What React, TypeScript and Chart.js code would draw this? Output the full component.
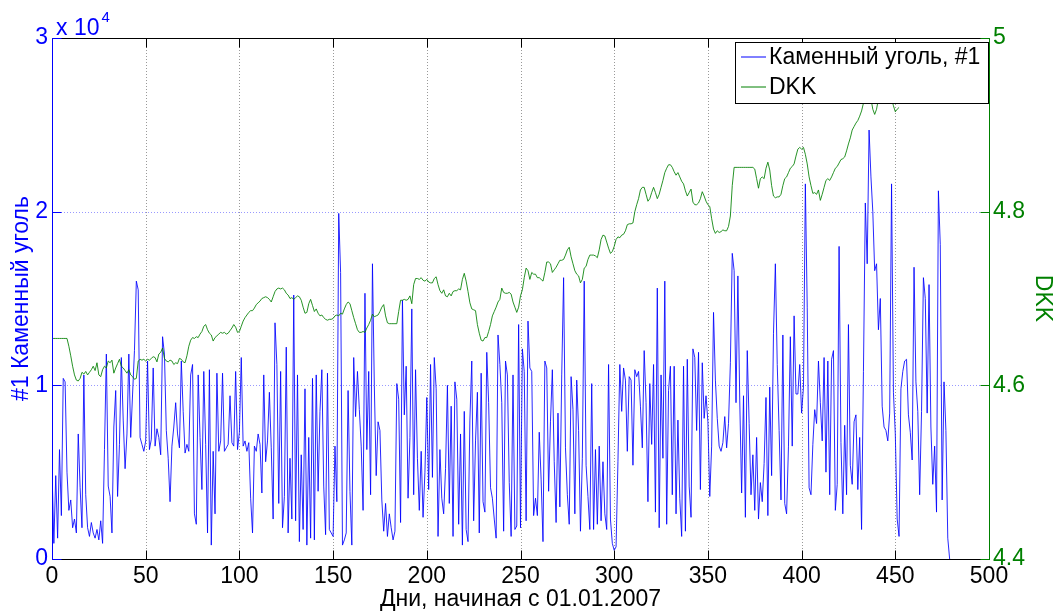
import React, { useEffect, useRef } from 'react';
import { Chart, registerables } from 'chart.js';

Chart.register(...registerables);

const FONT = '"Liberation Sans", Arial, Helvetica, sans-serif';
const TEXT_SIZE = 23;

const coalLabel = 'Каменный уголь, #1';
const dkkLabel = 'DKK';
const xTitle = 'Дни, начиная с 01.01.2007';
const coalTitle = '#1 Каменный уголь';
const dkkTitle = 'DKK';

const xTicks = [0, 50, 100, 150, 200, 250, 300, 350, 400, 450, 500];
const coalTicks = [0, 10000, 20000, 30000];
const dkkTicks = [4.4, 4.6, 4.8, 5];

const COAL_BLUE = 'rgb(0,0,255)';
const DKK_GREEN = 'rgb(0,128,0)';

// Coal #1 price, one value per day starting 01.01.2007
const coalPrices = [
  5200, 900, 4800, 1200, 6300, 2500, 10400, 10200, 5000, 2800,
  3400, 1800, 2300, 1500, 7200, 4100, 1800, 10600, 3700, 1800,
  1300, 2100, 1500, 1200, 1700, 1100, 2200, 900, 6300, 11800,
  4200, 3600, 1500, 7600, 9700, 3600, 6600, 11600, 8000, 5200,
  7200, 11800, 7000, 9500, 12000, 16000,
  15500, 7000, 6600, 6200, 6800, 11400, 6300, 6900, 11000, 6500,
  7500, 7000, 6000, 12800, 11800, 7400, 5800, 3300, 6500, 7600,
  9000, 7200, 6400, 11400, 8500, 6100, 6600, 6200, 10600, 11200,
  2600, 2000, 10600, 7000, 4000, 10800, 6600, 1500, 10900, 800,
  6200, 2600, 10700, 6200, 6800, 10700, 6200, 6400,
  6600, 9400, 6700, 6500, 10800, 6300, 7300, 11600, 6500, 6800,
  6200, 6700, 3500, 1500, 6500, 6200, 7200, 6600, 3800, 10600,
  5600, 6800, 9600, 6400, 2300, 13600, 11200, 3200, 10800, 1800,
  3600, 12200, 1500, 5800, 2300, 15200, 2200, 10600, 1000, 6000,
  1700, 9800, 800, 7000, 1200,
  10400, 1100, 10600, 3900, 8500, 10900, 4200, 1400, 10700, 1700,
  1500, 1300, 6500, 3300, 19900, 16500, 800, 1100, 1500, 9700,
  3900, 800, 11600, 8200, 10800, 8600, 6500, 2800, 15300, 6300,
  10800, 3700, 17000, 10000, 4800, 7900, 7400, 3400, 1600, 3200,
  1300, 2600, 1800, 1100, 1600,
  10100, 9200, 2100, 14900, 8300, 11100, 3500, 7000, 14400, 3700,
  10900, 5800, 2800, 6200, 2400, 5000, 9300, 4000, 11200, 4700,
  11600, 9800, 1300, 6300, 3500, 2600, 5200, 10000, 3200, 8800,
  1300, 10200, 9200, 2000, 7200, 800, 8500, 1700, 1000, 8000,
  11400, 2200, 6800, 9600, 1500, 10700,
  3300, 2700, 11900, 9000, 4100, 3500, 2300, 1200, 12900, 11200,
  9000, 1600, 11400, 10600, 4400, 1300, 10600, 1700, 1900, 13500,
  1800, 12100, 10800, 2200, 13700, 11000, 10800, 2500, 3500, 2500,
  7300, 4600, 1000, 11400, 11000, 3900, 7900, 10900, 5600, 2100,
  8400, 3000, 10600, 16200,
  6400, 3700, 2000, 10500, 8600, 2600, 10300, 7400, 1600, 5800,
  16000, 5400, 3600, 1700, 10100, 1700, 6300, 2000, 6500, 2200,
  5600, 2600, 1700, 11200, 2300, 900, 500, 700, 5600, 11200,
  8500, 11000, 10300, 6200, 10500, 10300, 5400, 10900, 10500, 10800,
  8800, 6400, 12000, 9000, 3300, 10100, 6600,
  11200, 2700, 15600, 1800, 10600, 5800, 16000, 2000, 9700, 11100,
  3700, 11100, 2600, 8000, 3500, 1300, 11100, 1600, 11500, 4200,
  2400, 12100, 11600, 7400, 11900, 4000, 11300, 8100, 9400, 7900,
  3600, 6500, 14200, 10300, 8100, 6500, 6200, 6700, 8200, 6400,
  7800, 11300, 17600, 16600, 9000,
  16300, 9100, 3800, 9400, 2400, 12000, 7800, 3700, 6000, 2800,
  7000, 2300, 4400, 3300, 5500, 9300, 2500, 9900, 4800, 13000,
  17000, 11200, 7400, 3400, 12900, 3200, 2600, 6500, 12800, 6500,
  14000, 9500, 9500, 11200, 8400, 9900, 21600, 14500, 4100, 3700,
  6600, 8600, 7800, 11400, 9000, 6800,
  11600, 5000, 11400, 3700, 11500, 12000, 2800, 4300, 18000, 6700,
  2600, 7700, 3700, 13500, 5400, 4300, 7900, 8300, 4000, 7000,
  1700, 10800, 20500, 17000, 24700, 22000, 20000, 16600, 17000, 13200,
  15000, 8800, 7600, 7400, 6800, 8400, 21600, 9600, 7200, 2300,
  1300, 9800, 10800, 11400,
  11500, 8300, 7300, 5700, 16800, 10200, 8500, 3700, 8500, 16200,
  15000, 8400, 15800, 7600, 4300, 6500, 2700, 21200, 18100, 3400,
  10200, 7400, 1200, 0,
];

// DKK exchange rate, one value per day starting 01.01.2007
const dkkRates = [
  4.654, 4.654, 4.654, 4.654, 4.654, 4.654, 4.654, 4.654, 4.654, 4.645,
  4.634, 4.622, 4.612, 4.606, 4.605, 4.608, 4.615, 4.613, 4.616, 4.612,
  4.615, 4.618, 4.622, 4.617, 4.626, 4.612, 4.610, 4.618, 4.622, 4.620,
  4.628, 4.626, 4.629, 4.614, 4.620, 4.625, 4.630, 4.622, 4.620, 4.617,
  4.614, 4.618, 4.612, 4.610, 4.607, 4.608, 4.628, 4.630, 4.629, 4.630,
  4.628, 4.630, 4.629, 4.631, 4.633, 4.632, 4.627, 4.636, 4.638, 4.643,
  4.631, 4.628, 4.627, 4.629, 4.628, 4.624, 4.626, 4.625, 4.631, 4.630,
  4.627, 4.626, 4.634, 4.645, 4.652, 4.655, 4.654, 4.656, 4.655, 4.659,
  4.662, 4.668, 4.670, 4.664, 4.660, 4.658, 4.651, 4.655, 4.657, 4.659,
  4.661, 4.660, 4.661, 4.659, 4.660, 4.663, 4.666, 4.670, 4.667, 4.661,
  4.662, 4.668, 4.674, 4.678, 4.681, 4.684, 4.686, 4.686, 4.689, 4.693,
  4.695, 4.697, 4.700, 4.701, 4.702, 4.701, 4.699, 4.696, 4.702, 4.708,
  4.711, 4.712, 4.711, 4.712, 4.710, 4.706, 4.704, 4.700, 4.701, 4.699,
  4.701, 4.703, 4.702, 4.698, 4.690, 4.683, 4.684, 4.694, 4.699, 4.692,
  4.685, 4.688, 4.683, 4.680, 4.681, 4.678, 4.676, 4.675, 4.676, 4.676,
  4.677, 4.680, 4.681, 4.680, 4.683, 4.682, 4.688, 4.693, 4.696, 4.694,
  4.686, 4.678, 4.671, 4.664, 4.661, 4.661, 4.662, 4.661, 4.666, 4.670,
  4.675, 4.682, 4.679, 4.680, 4.681, 4.685, 4.690, 4.693, 4.680, 4.672,
  4.671, 4.671, 4.671, 4.671, 4.671, 4.685, 4.698, 4.698, 4.699, 4.698,
  4.699, 4.703, 4.694, 4.716, 4.723, 4.723, 4.722, 4.724, 4.721, 4.720,
  4.722, 4.719, 4.718, 4.718, 4.723, 4.725, 4.716, 4.709, 4.706, 4.710,
  4.703, 4.702, 4.706, 4.703, 4.708, 4.709, 4.709, 4.711, 4.710, 4.722,
  4.729, 4.720, 4.708, 4.695, 4.688, 4.687, 4.686, 4.670, 4.660, 4.652,
  4.651, 4.655, 4.655, 4.662, 4.670, 4.680, 4.685, 4.690, 4.696, 4.699,
  4.712, 4.707, 4.706, 4.706, 4.707, 4.705, 4.696, 4.690, 4.684, 4.690,
  4.703, 4.710, 4.724, 4.735, 4.732, 4.722, 4.730, 4.728, 4.728, 4.724,
  4.724, 4.722, 4.720, 4.730, 4.742, 4.742, 4.740, 4.730, 4.733, 4.736,
  4.740, 4.744, 4.744, 4.745, 4.750, 4.756, 4.759, 4.748, 4.740, 4.732,
  4.728, 4.726, 4.718, 4.722, 4.735, 4.737, 4.745, 4.750, 4.750, 4.750,
  4.749, 4.747, 4.756, 4.768, 4.773, 4.772, 4.765, 4.758, 4.752, 4.754,
  4.760, 4.768, 4.771, 4.770, 4.773, 4.774, 4.778, 4.785, 4.786, 4.786,
  4.787, 4.800, 4.808, 4.815, 4.825, 4.828, 4.828, 4.820, 4.812, 4.815,
  4.822, 4.828, 4.822, 4.815, 4.820, 4.828, 4.836, 4.845, 4.850, 4.854,
  4.854, 4.851, 4.846, 4.842, 4.845, 4.840, 4.835, 4.832, 4.824, 4.818,
  4.822, 4.826, 4.811, 4.808, 4.808, 4.810, 4.815, 4.823, 4.818, 4.812,
  4.808, 4.806, 4.792, 4.780, 4.775, 4.778, 4.776, 4.777, 4.779, 4.778,
  4.778, 4.783, 4.795, 4.830, 4.851, 4.851, 4.851, 4.851, 4.851, 4.851,
  4.851, 4.851, 4.851, 4.851, 4.851, 4.849, 4.838, 4.827, 4.838, 4.840,
  4.838, 4.850, 4.857, 4.848, 4.830, 4.818, 4.816, 4.817, 4.817, 4.820,
  4.830, 4.838, 4.840, 4.845, 4.850, 4.852, 4.855, 4.864, 4.872, 4.874,
  4.872, 4.874, 4.866, 4.855, 4.840, 4.830, 4.821, 4.822, 4.820, 4.825,
  4.813, 4.820, 4.828, 4.836, 4.838, 4.836, 4.840, 4.845, 4.850, 4.852,
  4.856, 4.860, 4.861, 4.863, 4.870, 4.878, 4.885, 4.894, 4.898, 4.902,
  4.905, 4.910, 4.916, 4.925, 4.935, 4.955, 4.945, 4.930, 4.918, 4.912,
  4.918, 4.930, 4.942, 4.945, 4.940, 4.935, 4.938, 4.942, 4.930, 4.922,
  4.915, 4.918, 4.920,
];

const crisp = (v: number) => Math.round(v) + 0.5;

// Dotted grid lines behind the series
const gridPlugin = {
  id: 'dottedGrid',
  beforeDatasetsDraw(chart: any) {
    const { ctx, chartArea: a, scales } = chart;
    ctx.save();
    ctx.lineWidth = 1;
    ctx.setLineDash([1, 2]);
    ctx.strokeStyle = 'rgba(0,0,0,0.4)';
    xTicks.slice(1, -1).forEach((v) => {
      const x = crisp(scales.x.getPixelForValue(v));
      ctx.beginPath();
      ctx.moveTo(x, a.top);
      ctx.lineTo(x, a.bottom);
      ctx.stroke();
    });
    ctx.strokeStyle = 'rgba(70,70,255,0.55)';
    coalTicks.slice(1, -1).forEach((v) => {
      const y = crisp(scales.yCoal.getPixelForValue(v));
      ctx.beginPath();
      ctx.moveTo(a.left, y);
      ctx.lineTo(a.right, y);
      ctx.stroke();
    });
    ctx.restore();
  },
};

// Axes box, inward tick marks and the axis multiplier
const framePlugin = {
  id: 'axesFrame',
  afterDatasetsDraw(chart: any) {
    const { ctx, chartArea: a, scales } = chart;
    const L = crisp(a.left), R = crisp(a.right), T = crisp(a.top), B = crisp(a.bottom);
    const tl = 9;
    ctx.save();
    ctx.lineWidth = 1;
    ctx.setLineDash([]);
    const line = (x1: number, y1: number, x2: number, y2: number, c: string) => {
      ctx.strokeStyle = c;
      ctx.beginPath();
      ctx.moveTo(x1, y1);
      ctx.lineTo(x2, y2);
      ctx.stroke();
    };
    line(L, T, R, T, '#000');
    line(L, B, R, B, '#000');
    xTicks.forEach((v) => {
      const x = crisp(scales.x.getPixelForValue(v));
      line(x, B, x, B - tl, '#000');
      line(x, T, x, T + tl, '#000');
    });
    line(L, T, L, B, COAL_BLUE);
    coalTicks.forEach((v) => {
      const y = crisp(scales.yCoal.getPixelForValue(v));
      line(L, y, L + tl, y, COAL_BLUE);
    });
    line(R, T, R, B, DKK_GREEN);
    dkkTicks.forEach((v) => {
      const y = crisp(scales.yDkk.getPixelForValue(v));
      line(R - tl, y, R, y, DKK_GREEN);
    });
    ctx.fillStyle = COAL_BLUE;
    ctx.textBaseline = 'alphabetic';
    ctx.textAlign = 'left';
    ctx.font = `${TEXT_SIZE}px ${FONT}`;
    const base = 'x 10';
    const bx = a.left + 4;
    ctx.fillText(base, bx, 35);
    const w = ctx.measureText(base).width;
    ctx.font = `15px ${FONT}`;
    ctx.fillText('4', bx + w + 2, 22);
    ctx.restore();
  },
};

// Boxed legend in the upper right corner of the plot
const legendPlugin = {
  id: 'boxLegend',
  afterDraw(chart: any) {
    const { ctx, chartArea: a } = chart;
    const right = Math.round(a.right) - 1;
    const left = 735;
    const top = 42;
    const bottom = 103;
    ctx.save();
    ctx.fillStyle = '#fff';
    ctx.fillRect(left, top, right - left, bottom - top);
    ctx.strokeStyle = '#000';
    ctx.lineWidth = 1;
    ctx.strokeRect(left + 0.5, top + 0.5, right - left, bottom - top);
    ctx.font = `${TEXT_SIZE}px ${FONT}`;
    ctx.textBaseline = 'middle';
    ctx.textAlign = 'left';
    chart.data.datasets.forEach((ds: any, i: number) => {
      const y = 57 + i * 30;
      ctx.strokeStyle = ds.borderColor;
      ctx.lineWidth = 1;
      ctx.beginPath();
      ctx.moveTo(741, y);
      ctx.lineTo(766, y);
      ctx.stroke();
      ctx.fillStyle = '#000';
      ctx.fillText(ds.label, 769, y + 1);
    });
    ctx.restore();
  },
};

export default function App() {
  const canvasRef = useRef<HTMLCanvasElement | null>(null);

  useEffect(() => {
    const canvas = canvasRef.current;
    if (!canvas) return;
    const font = { family: FONT, size: TEXT_SIZE };
    const chart = new Chart(canvas, {
      type: 'line',
      data: {
        datasets: [
          {
            label: coalLabel,
            data: coalPrices.map((y, x) => ({ x, y })),
            yAxisID: 'yCoal',
            borderColor: COAL_BLUE,
            borderWidth: 0.85,
            pointRadius: 0,
            tension: 0,
            order: 1,
          },
          {
            label: dkkLabel,
            data: dkkRates.map((y, x) => ({ x, y })),
            yAxisID: 'yDkk',
            borderColor: DKK_GREEN,
            borderWidth: 0.85,
            pointRadius: 0,
            tension: 0,
            order: 0,
          },
        ],
      },
      options: {
        animation: false,
        responsive: false,
        maintainAspectRatio: false,
        events: [],
        layout: { padding: { top: 38, left: 0, right: 0, bottom: 0 } },
        plugins: { legend: { display: false }, tooltip: { enabled: false } },
        scales: {
          x: {
            type: 'linear',
            position: 'bottom',
            min: 0,
            max: 500,
            afterBuildTicks: (s: any) => {
              s.ticks = xTicks.map((value) => ({ value }));
            },
            afterFit: (s: any) => {
              s.height = 56;
            },
            grid: { display: false, drawTicks: false },
            border: { display: false },
            ticks: { color: '#000', font, padding: 4, maxRotation: 0, autoSkip: false },
            title: {
              display: true,
              text: xTitle,
              color: '#000',
              font,
              padding: { top: 0, bottom: 2 },
            },
          },
          yCoal: {
            type: 'linear',
            position: 'left',
            min: 0,
            max: 30000,
            afterBuildTicks: (s: any) => {
              s.ticks = coalTicks.map((value) => ({ value }));
            },
            afterFit: (s: any) => {
              s.width = 52;
            },
            grid: { display: false, drawTicks: false },
            border: { display: false },
            ticks: {
              color: COAL_BLUE,
              font,
              padding: 4,
              callback: (v: any) => String(Number(v) / 10000),
            },
            title: {
              display: true,
              text: coalTitle,
              color: COAL_BLUE,
              font,
              padding: { top: 8, bottom: 0 },
            },
          },
          yDkk: {
            type: 'linear',
            position: 'right',
            min: 4.4,
            max: 5,
            afterBuildTicks: (s: any) => {
              s.ticks = dkkTicks.map((value) => ({ value }));
            },
            afterFit: (s: any) => {
              s.width = 69;
            },
            grid: { display: false, drawTicks: false },
            border: { display: false },
            ticks: {
              color: DKK_GREEN,
              font,
              padding: 4,
              callback: (v: any) => String(Math.round(Number(v) * 10) / 10),
            },
            title: {
              display: true,
              text: dkkTitle,
              color: DKK_GREEN,
              font,
              padding: { top: 2, bottom: 0 },
            },
          },
        },
      },
      plugins: [gridPlugin, framePlugin, legendPlugin],
    } as any);
    return () => chart.destroy();
  }, []);

  return (
    <div style={{ position: 'fixed', left: 0, top: 0, width: 1058, height: 615, background: '#fff' }}>
      <canvas ref={canvasRef} width={1058} height={615} style={{ display: 'block', width: 1058, height: 615 }} />
    </div>
  );
}
